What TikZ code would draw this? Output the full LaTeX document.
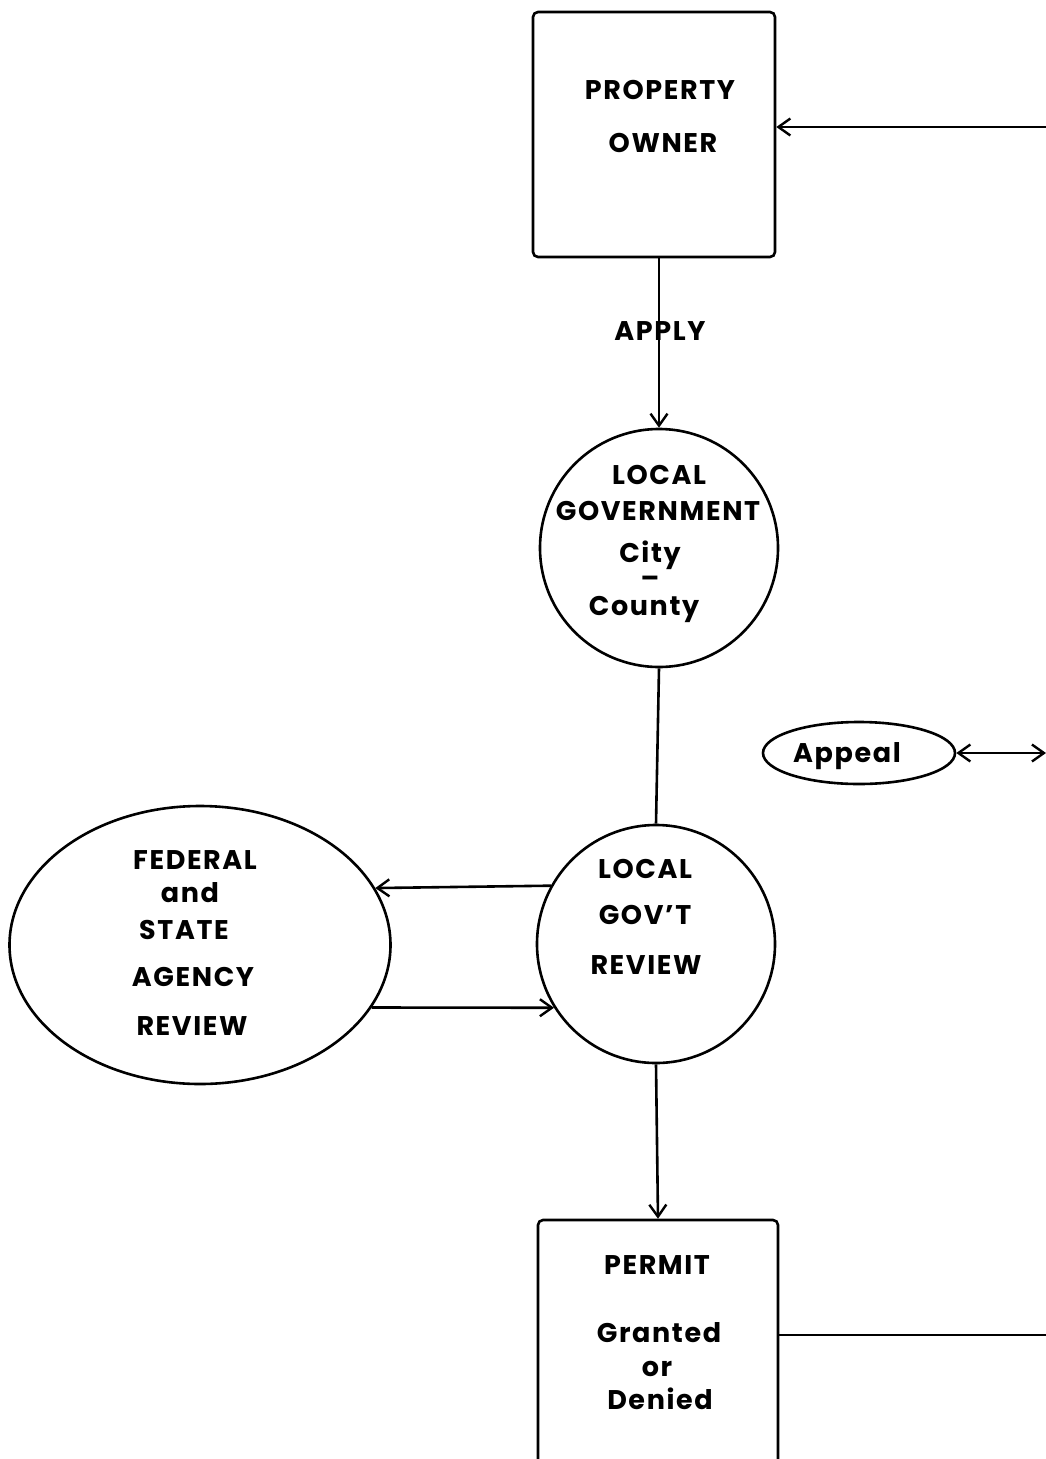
\documentclass[tikz,border=0pt]{standalone}
\usepackage{fontspec}
\setmainfont{Poppins}[LetterSpace=6]
\usetikzlibrary{arrows.meta,shapes.geometric}
\begin{document}
\begin{tikzpicture}[x=1pt,y=-1pt,line width=2.6pt,
  txt/.style={font=\fontsize{27}{32}\selectfont\bfseries,inner sep=0pt,text height=19pt,text depth=0pt},
  arr/.style={-{Straight Barb[length=12pt,width=17pt,line width=2.4pt]}},
  arrboth/.style={{Straight Barb[length=12pt,width=17pt,line width=2.4pt]}-{Straight Barb[length=12pt,width=17pt,line width=2.4pt]}},
  boxshape/.style={draw,rounded corners=5pt,inner sep=0pt},
  circshape/.style={draw,circle,inner sep=0pt,minimum size=238}]
\useasboundingbox (0,0) rectangle (1046,1459);
\clip (0,0) rectangle (1046,1459);
% shapes
\node[boxshape,minimum width=242,minimum height=245] (owner) at (654,134.5) {};
\node[circshape] (lg) at (659,548) {};
\node[circshape] (rev) at (656,944) {};
\node[draw,ellipse,inner sep=0pt,minimum width=381,minimum height=278] (fed) at (200,945) {};
\node[boxshape,minimum width=240,minimum height=320] (permit) at (658,1380) {};
\node[draw,ellipse,inner sep=0pt,minimum width=192,minimum height=62] (appeal) at (859,753) {};
% texts
\node[txt] (t1) at (660,90) {PROPERTY};
\node[txt] (t2) at (663,143) {OWNER};
\node[txt] (t3) at (660,331) {APPLY};
\node[txt] (t4) at (659,475) {LOCAL};
\node[txt] (t5) at (658,511) {GOVERNMENT};
\node[txt] (t6) at (650,553) {City};
\node[txt] (t7) at (650,578) {–};
\node[txt] (t8) at (644,606) {County};
\node[txt] (t9) at (645,869) {LOCAL};
\node[txt] (t10) at (645,915) {GOV’T};
\node[txt] (t11) at (646,965) {REVIEW};
\node[txt] (t12) at (195,860) {FEDERAL};
\node[txt] (t13) at (190,893) {and};
\node[txt] (t14) at (184,930) {STATE};
\node[txt] (t15) at (193,977) {AGENCY};
\node[txt] (t16) at (192,1026) {REVIEW};
\node[txt] (t17) at (657,1265) {PERMIT};
\node[txt] (t18) at (659,1333) {Granted};
\node[txt] (t19) at (657,1367) {or};
\node[txt] (t20) at (660,1400) {Denied};
\node[txt] (t21) at (847,753) {Appeal};
% connector end points at the page edge
\coordinate (rtop) at (1046,127);
\coordinate (rmid) at (1046,753);
\coordinate (rbot) at (1046,1335);
% connectors
\draw[arr] (rtop) -- (owner.east |- rtop);
\draw[arr] (lg.north |- owner.south) -- (lg.north);
\draw (lg.south) -- (rev.north);
\draw[arr] (rev.151) -- (fed.18.6);
\draw[arr] (fed.-20.4) -- (rev.212.5);
\draw[arr] (rev.south) -- (permit.north);
\draw (permit.east |- rbot) -- (rbot);
\draw[arrboth] (appeal.east) -- (rmid);
\end{tikzpicture}
\end{document}
